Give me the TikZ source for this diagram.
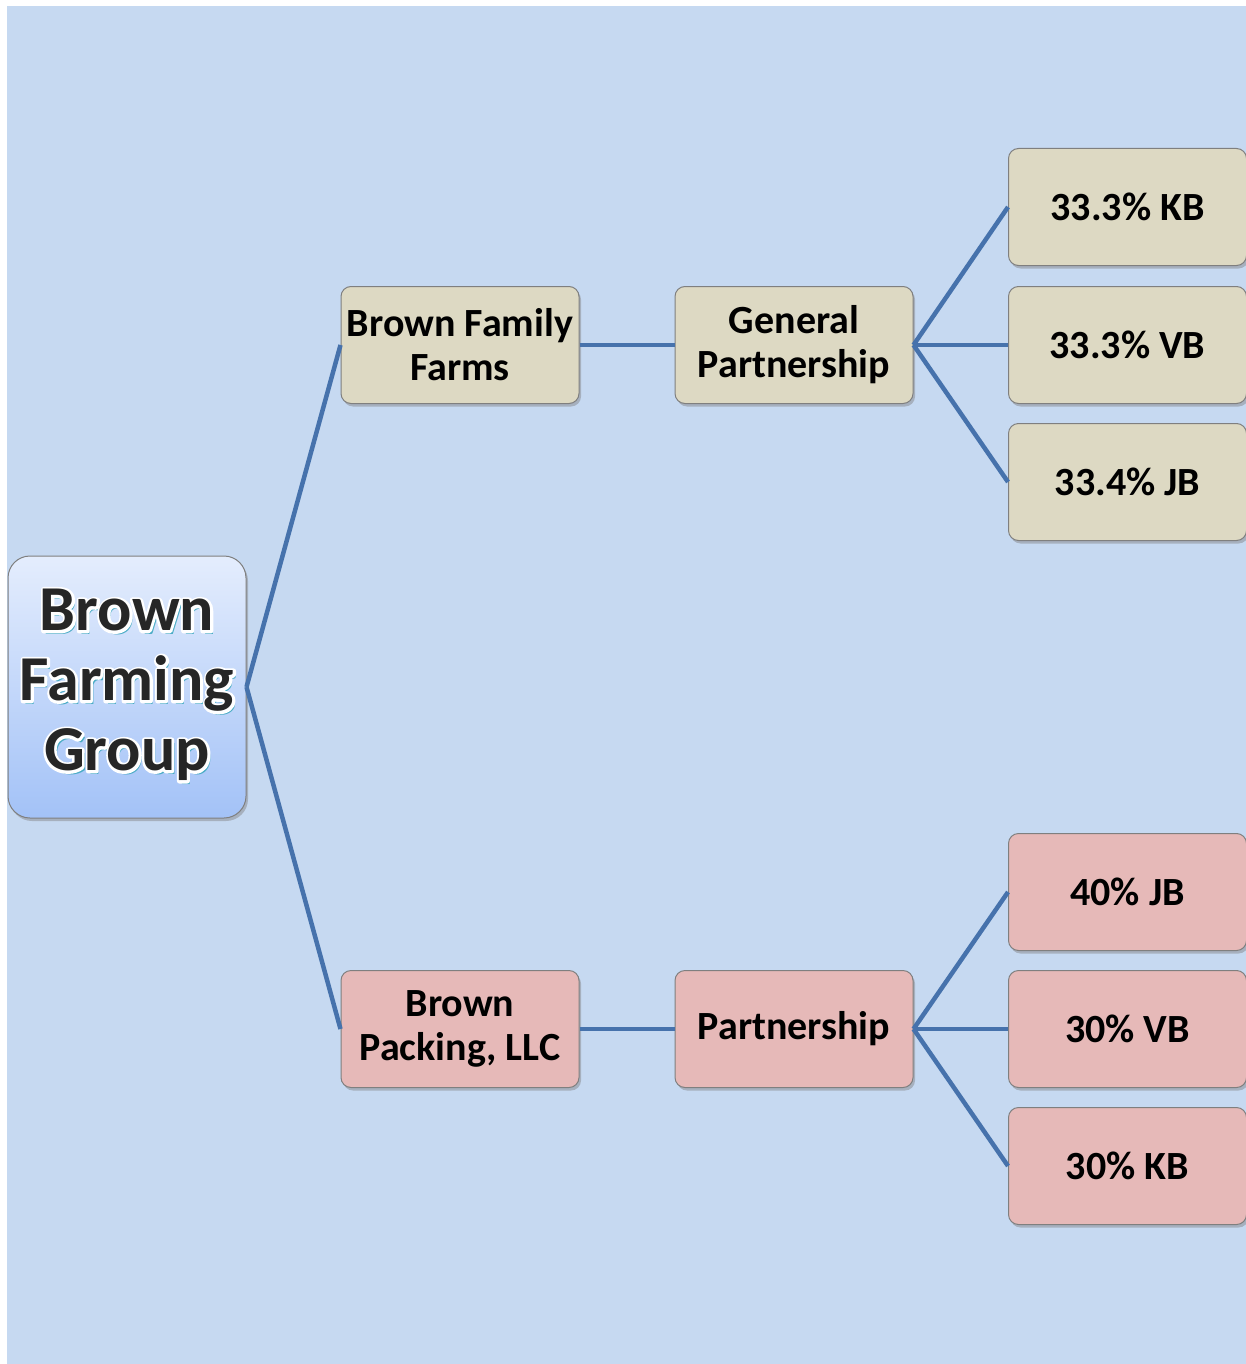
\documentclass[tikz,border=0pt]{standalone}
\usepackage{fontspec}
\setmainfont{Carlito}
\usetikzlibrary{shadows,positioning}
\definecolor{bgblue}{HTML}{C6D9F1}
\definecolor{tan}{HTML}{DDD9C3}
\definecolor{pink}{HTML}{E6B9B8}
\definecolor{linkblue}{HTML}{4672AC}
\definecolor{boxline}{HTML}{7F7F7F}
\definecolor{bfgtop}{HTML}{E4EDFD}
\definecolor{bfgbot}{HTML}{A3C2F7}
\definecolor{shadecyan}{HTML}{4BACC6}
% white rim round the big letters
\newcommand{\rimtext}[1]{\special{pdf:literal direct 1 1 1 RG 5 w 1 j 2 Tr}#1\special{pdf:literal direct 0 Tr}}
% cyan shadow + white rim + dark letters, one line
\newcommand{\fancyword}[1]{\makebox[0pt][l]{\hspace{3pt}\raisebox{-3.5pt}{\color{shadecyan}#1}}\makebox[0pt][l]{\color{white}\rimtext{#1}}#1}
\tikzset{
	box/.style={draw=boxline, line width=1pt, rounded corners=10pt, minimum width=238pt, minimum height=117pt, inner sep=2pt, align=center, font=\bfseries\fontsize{40}{44}\selectfont, drop shadow={opacity=.45, shadow xshift=2pt, shadow yshift=-3pt}},
	tanbox/.style={box, fill=tan},
	pinkbox/.style={box, fill=pink},
	bigbox/.style={draw=boxline, line width=1pt, rounded corners=22pt, minimum width=238pt, minimum height=262pt, top color=bfgtop, bottom color=bfgbot, drop shadow={opacity=.45, shadow xshift=2pt, shadow yshift=-3pt}, align=center, text=black!85, font=\bfseries\fontsize{64}{70}\selectfont},
	link/.style={color=linkblue, line width=4.5pt}
}
\begin{document}
\begin{tikzpicture}[x=1pt,y=-1pt]
	\useasboundingbox (0,0) rectangle (1246,1364);
	\fill[bgblue] (7,6) rectangle (1246,1364);
	
	%%Brown Farming Group
	\node[bigbox] (bfg) at (127,687) {\fancyword{Brown}\\\fancyword{Farming}\\\fancyword{Group}};
	
	%%Farms branch
	\node[tanbox] (bff) at (460,345) {Brown Family\\Farms};
	\node[tanbox] (gp) at (794,345) {General\\Partnership};
	\node[tanbox] (kb1) at (1127.5,207) {33.3\% KB};
	\node[tanbox] (vb1) at (1127.5,345) {33.3\% VB};
	\node[tanbox] (jb1) at (1127.5,482) {33.4\% JB};
	
	%%Packing branch
	\node[pinkbox] (bp) at (460,1029) {Brown\\Packing, LLC};
	\node[pinkbox] (pp) at (794,1029) {Partnership};
	\node[pinkbox] (jb2) at (1127.5,892) {40\% JB};
	\node[pinkbox] (vb2) at (1127.5,1029) {30\% VB};
	\node[pinkbox] (kb2) at (1127.5,1166) {30\% KB};
	
	%% edges
	\draw[link] (bfg.east) -- (bff.west);
	\draw[link] (bfg.east) -- (bp.west);
	\draw[link] (bff.east) -- (gp.west);
	\draw[link] (bp.east) -- (pp.west);
	\foreach \n in {kb1,vb1,jb1}
		\draw[link] (gp.east) -- (\n.west);
	\foreach \n in {jb2,vb2,kb2}
		\draw[link] (pp.east) -- (\n.west);
\end{tikzpicture}
\end{document}
